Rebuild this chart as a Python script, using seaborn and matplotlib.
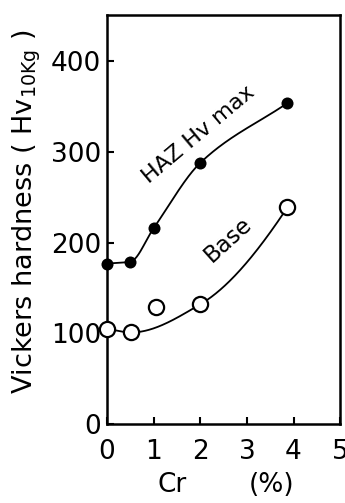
import numpy as np
import pandas as pd
import matplotlib
matplotlib.use("Agg")
import matplotlib.pyplot as plt
import seaborn as sns

# Data
cr_haz = [0.0, 0.5, 1.0, 2.0, 3.87]
hv_haz = [177, 179, 216, 288, 354]

cr_base = [0.0, 0.52, 1.05, 2.0, 3.87]
hv_base = [105, 101, 129, 132, 239]
# the drawn base curve skips the 1% point
base_curve_idx = [0, 1, 3, 4]

x_ticks = [0, 1, 2, 3, 4, 5]
y_ticks = [0, 100, 200, 300, 400]


def pchip(x, y, n=200, three_point_end=False):
    # monotone cubic through the points, just for the hand-drawn fit line
    x = np.asarray(x, float)
    y = np.asarray(y, float)
    h = np.diff(x)
    d = np.diff(y) / h
    m = np.zeros_like(y)
    for k in range(1, len(x) - 1):
        if d[k - 1] * d[k] > 0:
            w1 = 2 * h[k] + h[k - 1]
            w2 = h[k] + 2 * h[k - 1]
            m[k] = (w1 + w2) / (w1 / d[k - 1] + w2 / d[k])
    m[0] = d[0]
    m[-1] = d[-1]
    if three_point_end:
        m[-1] = ((2 * h[-1] + h[-2]) * d[-1] - h[-1] * d[-2]) / (h[-1] + h[-2])
    xs = np.linspace(x[0], x[-1], n)
    ys = np.empty_like(xs)
    for i, xv in enumerate(xs):
        k = min(np.searchsorted(x, xv, side="right") - 1, len(x) - 2)
        t = (xv - x[k]) / h[k]
        h00 = 2 * t**3 - 3 * t**2 + 1
        h10 = t**3 - 2 * t**2 + t
        h01 = -2 * t**3 + 3 * t**2
        h11 = t**3 - t**2
        ys[i] = h00 * y[k] + h10 * h[k] * m[k] + h01 * y[k + 1] + h11 * h[k] * m[k + 1]
    return xs, ys


sns.set_theme(style="white")
plt.rcParams["font.family"] = ["DejaVu Sans"]
plt.rcParams["mathtext.fontset"] = "dejavusans"
plt.rcParams["text.color"] = "black"

fig, ax = plt.subplots(figsize=(3.45, 5.03), dpi=100)
fig.subplots_adjust(left=0.310, right=0.986, top=0.970, bottom=0.157)

hx, hy = pchip(cr_haz, hv_haz)
bx, by = pchip([cr_base[i] for i in base_curve_idx],
               [hv_base[i] for i in base_curve_idx], three_point_end=True)

sns.lineplot(x=hx, y=hy, ax=ax, color="black", lw=1.3, sort=False)
sns.lineplot(x=bx, y=by, ax=ax, color="black", lw=1.3, sort=False)

haz = pd.DataFrame({"cr": cr_haz, "hv": hv_haz})
base = pd.DataFrame({"cr": cr_base, "hv": hv_base})
sns.scatterplot(data=haz, x="cr", y="hv", ax=ax, color="black", s=75,
                edgecolor="black", linewidth=0, zorder=5, clip_on=False)
sns.scatterplot(data=base, x="cr", y="hv", ax=ax, color="white", s=120,
                edgecolor="black", linewidth=1.6, zorder=5, clip_on=False)

ax.set_xlim(0, 5)
ax.set_ylim(0, 451)
ax.set_xticks(x_ticks)
ax.set_yticks(y_ticks)
ax.set_xticklabels([str(v) for v in x_ticks])
ax.set_yticklabels([str(v) for v in y_ticks])
ax.tick_params(axis="both", direction="in", length=5, width=1.5, labelsize=19,
               colors="black", left=True, bottom=True)
ax.tick_params(axis="x", pad=11)
ax.tick_params(axis="y", pad=4)
for s in ax.spines.values():
    s.set_color("black")
    s.set_linewidth(1.8)

ax.set_xlabel("")
ax.set_ylabel(r"Vickers hardness ( Hv$_{\mathregular{10Kg}}$ )", fontsize=19.5, color="black")
ax.yaxis.set_label_coords(-0.275, 0.52)

fig.text(172 / 345, 1 - 485 / 503, "Cr", fontsize=19, ha="center", va="center")
fig.text(272 / 345, 1 - 485 / 503, "(%)", fontsize=19, ha="center", va="center")

ax.text(1.97, 319, "HAZ Hv max", fontsize=16, rotation=40, ha="center", va="center")
ax.text(2.6, 203, "Base", fontsize=16.5, rotation=42, ha="center", va="center")

fig.savefig("out.png", dpi=100, facecolor="white")
